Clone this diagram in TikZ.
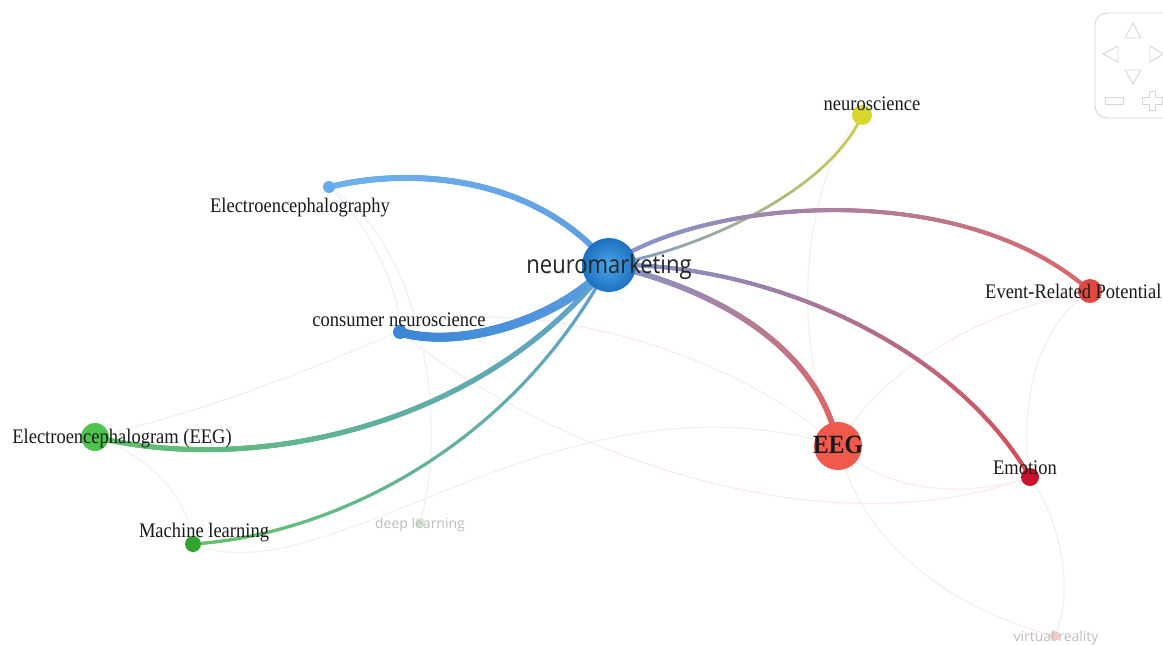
\documentclass[tikz,border=0pt]{standalone}
\usepackage{fontspec}
\usepackage{graphicx}
\setmainfont{Liberation Serif}
\newfontfamily\nmfont{Open Sans}
\usetikzlibrary{decorations.markings}
\pgfdeclarelayer{bg}
\pgfdeclarelayer{edges}
\pgfsetlayers{bg,edges,main}
\definecolor{nmIn}{RGB}{78,165,232}
\definecolor{nmOut}{RGB}{28,112,192}
\definecolor{cEn}{RGB}{100,172,238}
\definecolor{cCn}{RGB}{60,134,214}
\definecolor{cEg}{RGB}{78,196,78}
\definecolor{cMl}{RGB}{48,166,48}
\definecolor{cDl}{RGB}{214,234,210}
\definecolor{cNs}{RGB}{214,214,44}
\definecolor{cErp}{RGB}{226,72,66}
\definecolor{cEEG}{RGB}{240,90,76}
\definecolor{cEmo}{RGB}{200,18,44}
\definecolor{cVr}{RGB}{248,200,200}
\definecolor{eEn}{RGB}{112,178,236}
\definecolor{eBlue}{RGB}{92,158,226}
\definecolor{eGreen}{RGB}{98,192,106}
\definecolor{eTeal}{RGB}{94,160,212}
\definecolor{eMl}{RGB}{102,194,102}
\definecolor{ePurp}{RGB}{128,152,208}
\definecolor{eYel}{RGB}{204,208,74}
\definecolor{eRed}{RGB}{224,100,100}
\definecolor{eRed2}{RGB}{232,96,90}
\definecolor{eRed3}{RGB}{220,76,82}
\definecolor{fB}{RGB}{237,243,250}
\definecolor{fG}{RGB}{238,247,238}
\definecolor{fR}{RGB}{251,238,238}
\definecolor{navc}{RGB}{215,215,215}
\definecolor{txt}{RGB}{26,26,26}
\definecolor{greytxt}{RGB}{190,190,190}
\newcommand{\vstr}[1]{\scalebox{1}[1.12]{#1}}
\begin{document}
\begin{tikzpicture}[x=1pt,y=-1pt,
  dot/.style={circle,inner sep=0pt,draw=none},
  lab/.style={inner sep=0pt,anchor=base,text=txt,font=\fontsize{18.5}{20}\selectfont},
  glab/.style={inner sep=0pt,anchor=base,text=greytxt,font=\nmfont\fontsize{14}{15}\selectfont},
  faint/.style={draw=#1,line width=1.3pt},
  gradedge/.style n args={3}{decoration={markings,
     mark=between positions 0 and 1 step 0.8pt with {%
       \pgfmathtruncatemacro\gpct{(\pgfkeysvalueof{/pgf/decoration/mark info/distance from start}/\pgfdecoratedpathlength)*100}%
       \fill[#2!\gpct!#1] (0,0) circle (#3);}},
     postaction={decorate}},
  navline/.style={draw=navc,line width=0.9pt}
]
\begin{pgfonlayer}{bg}
\fill[white] (0,0) rectangle (1163,645);
\end{pgfonlayer}
\useasboundingbox (0,0) rectangle (1163,645);

% nodes
\node[dot,minimum size=54pt,shade,inner color=nmIn,outer color=nmOut] (nm) at (609,265) {};
\node[dot,minimum size=12pt,fill=cEn] (en) at (329,187) {};
\node[dot,minimum size=14pt,fill=cCn] (cn) at (400,332) {};
\node[dot,minimum size=28pt,fill=cEg] (eg) at (95,437) {};
\node[dot,minimum size=16pt,fill=cMl] (ml) at (193,544) {};
\node[dot,minimum size=10pt,fill=cDl] (dl) at (420,523) {};
\node[dot,minimum size=20pt,fill=cNs] (ns) at (862,115) {};
\node[dot,minimum size=24pt,fill=cErp] (erp) at (1090,291) {};
\node[dot,minimum size=48pt,fill=cEEG] (eeg) at (838,446) {};
\node[dot,minimum size=18pt,fill=cEmo] (emo) at (1030,477) {};
\node[dot,minimum size=10pt,fill=cVr] (vr) at (1055,636) {};

% edges
\begin{pgfonlayer}{edges}
% faint edges
\draw[faint=fB] (en.center) .. controls (360,215) and (400,280) .. (cn.center);
\draw[faint=fB] (en.center) .. controls (420,240) and (450,420) .. (dl.center);
\draw[faint=fB] (eg.center) .. controls (250,400) and (350,350) .. (cn.center);
\draw[faint=fG] (eg.center) .. controls (150,455) and (190,500) .. (ml.center);
\draw[faint=fG] (ml.center) .. controls (330,600) and (560,360) .. (eeg.center);
\draw[faint=fR] (cn.center) .. controls (520,430) and (800,560) .. (emo.center);
\draw[faint=fR] (cn.center) .. controls (500,290) and (720,340) .. (eeg.center);
\draw[faint=fR] (ns.center) .. controls (800,180) and (790,350) .. (eeg.center);
\draw[faint=fR] (eeg.center) .. controls (880,370) and (980,310) .. (erp.center);
\draw[faint=fR] (eeg.center) .. controls (880,490) and (960,500) .. (emo.center);
\draw[faint=fR] (eeg.center) .. controls (860,540) and (950,610) .. (vr.center);
\draw[faint=fR] (erp.center) .. controls (1030,330) and (1020,420) .. (emo.center);
\draw[faint=fR] (emo.center) .. controls (1060,520) and (1075,590) .. (vr.center);
% strong edges
\path[gradedge={eEn}{eBlue}{3pt}] (en.center) .. controls (420,165) and (540,180) .. (nm.center);
\path[gradedge={cCn}{eBlue}{4.5pt}] (cn.center) .. controls (460,350) and (560,320) .. (nm.center);
\path[gradedge={eGreen}{eTeal}{2.6pt}] (eg.center) .. controls (250,475) and (480,430) .. (nm.center);
\path[gradedge={eMl}{eTeal}{1.8pt}] (ml.center) .. controls (330,535) and (510,450) .. (nm.center);
\path[gradedge={ePurp}{eYel}{1.6pt}] (nm.center) .. controls (700,250) and (830,190) .. (ns.center);
\path[gradedge={ePurp}{eRed}{2.1pt}] (nm.center) .. controls (700,200) and (960,175) .. (erp.center);
\path[gradedge={ePurp}{eRed2}{2.8pt}] (nm.center) .. controls (720,290) and (820,350) .. (eeg.center);
\path[gradedge={ePurp}{eRed3}{2.1pt}] (nm.center) .. controls (760,262) and (950,340) .. (emo.center);
\end{pgfonlayer}

% labels
\node[inner sep=0pt,anchor=base,text=txt!95] (l-nm) at (609,273) {\nmfont\fontsize{22}{23}\selectfont\scalebox{1}[1.15]{neuromarketing}};
\node[lab] (l-en) at (300,212) {\vstr{Electroencephalography}};
\node[lab] (l-cn) at (399,326) {\vstr{consumer neuroscience}};
\node[lab] (l-eg) at (122,443) {\vstr{Electroencephalogram (EEG)}};
\node[lab] (l-ml) at (204,537) {\vstr{Machine learning}};
\node[glab] (l-dl) at (420,528) {deep learning};
\node[lab] (l-ns) at (872,110) {\vstr{neuroscience}};
\node[lab,anchor=base west] (l-erp) at (985,298) {\vstr{Event-Related Potential}};
\node[lab,font=\bfseries\fontsize{23.5}{24}\selectfont] (l-eeg) at (838,453) {\vstr{EEG}};
\node[lab] (l-emo) at (1025,474) {\vstr{Emotion}};
\node[glab] (l-vr) at (1056,641) {virtual reality};

% navigation widget
\draw[navline,rounded corners=12pt] (1095,13) rectangle (1190,118);
\draw[navline] (1133,23) -- (1125,38) -- (1141,38) -- cycle;
\draw[navline] (1103,54) -- (1118,46) -- (1118,62) -- cycle;
\draw[navline] (1163,54) -- (1150,46) -- (1150,62) -- cycle;
\draw[navline] (1133,84) -- (1125,70) -- (1141,70) -- cycle;
\draw[navline] (1105,97) rectangle (1123,104);
\draw[navline] (1149,91) -- (1155,91) -- (1155,97) -- (1162,97) -- (1162,104) -- (1155,104) -- (1155,110) -- (1149,110) -- (1149,104) -- (1142,104) -- (1142,97) -- (1149,97) -- cycle;
\end{tikzpicture}
\end{document}
